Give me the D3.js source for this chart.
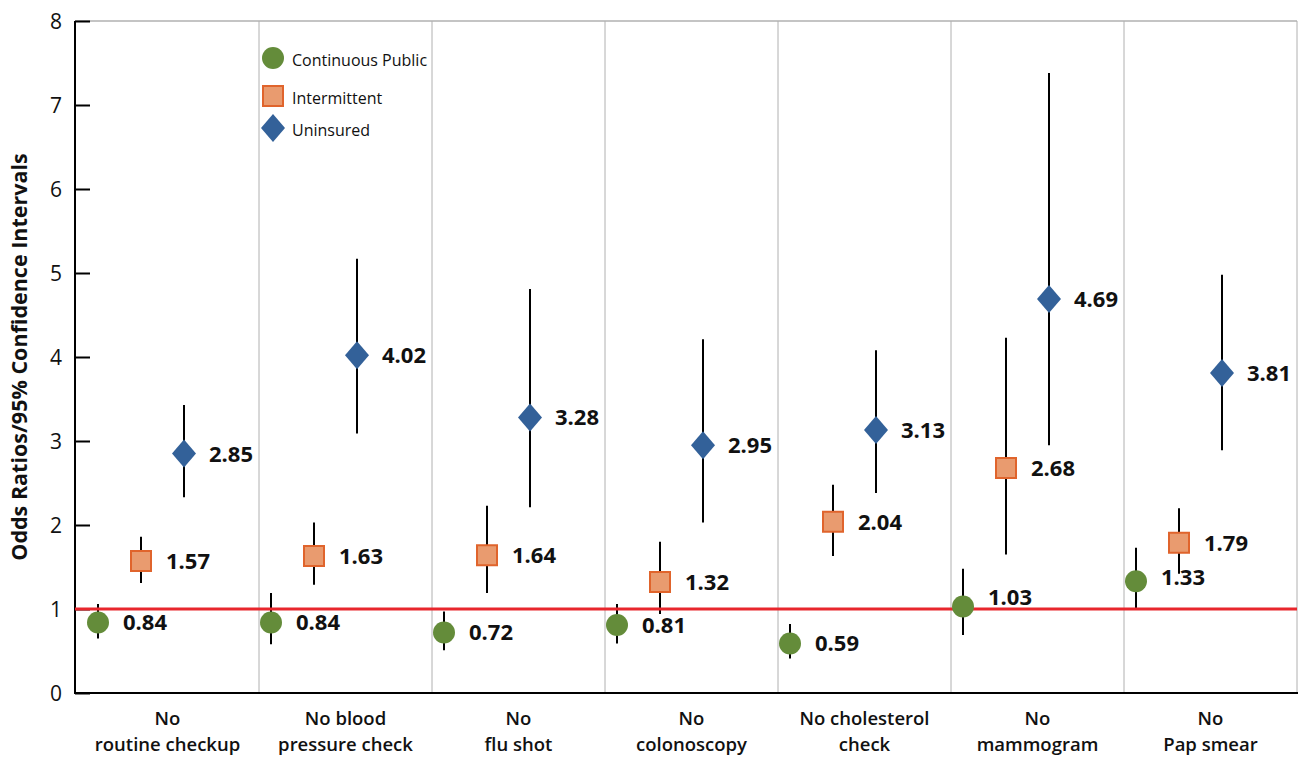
<!DOCTYPE html>
<html>
<head>
<meta charset="utf-8">
<script src="https://cdn.jsdelivr.net/npm/d3@7"></script>
<style>
  html, body { margin: 0; padding: 0; background: #fff; }
  svg { display: block; font-family: "Open Sans", "Noto Sans", sans-serif; }
</style>
</head>
<body>
<svg id="chart" width="1302" height="757"></svg>
<script>
// ---- Data ----
const categories = [
  ["No", "routine checkup"],
  ["No blood", "pressure check"],
  ["No", "flu shot"],
  ["No", "colonoscopy"],
  ["No cholesterol", "check"],
  ["No", "mammogram"],
  ["No", "Pap smear"]
];
const seriesNames = ["Continuous Public", "Intermittent", "Uninsured"];
const cpOR   = [0.84, 0.84, 0.72, 0.81, 0.59, 1.03, 1.33];
const cpLow  = [0.65, 0.58, 0.51, 0.59, 0.41, 0.69, 0.99];
const cpHigh = [1.06, 1.19, 0.97, 1.06, 0.82, 1.48, 1.73];
const intOR   = [1.57, 1.63, 1.64, 1.32, 2.04, 2.68, 1.79];
const intLow  = [1.31, 1.29, 1.19, 0.94, 1.63, 1.65, 1.42];
const intHigh = [1.86, 2.03, 2.23, 1.80, 2.48, 4.23, 2.20];
const unOR   = [2.85, 4.02, 3.28, 2.95, 3.13, 4.69, 3.81];
const unLow  = [2.33, 3.09, 2.21, 2.03, 2.38, 2.95, 2.89];
const unHigh = [3.43, 5.17, 4.81, 4.21, 4.08, 7.38, 4.98];
const yTicks = [0, 1, 2, 3, 4, 5, 6, 7, 8];
const referenceValue = 1;
const yTitle = "Odds Ratios/95% Confidence Intervals";

// ---- Build table ----
const seriesData = [
  { name: seriesNames[0], or: cpOR, lo: cpLow, hi: cpHigh, shape: "circle" },
  { name: seriesNames[1], or: intOR, lo: intLow, hi: intHigh, shape: "square" },
  { name: seriesNames[2], or: unOR, lo: unLow, hi: unHigh, shape: "diamond" }
];
const points = [];
seriesData.forEach(s => {
  categories.forEach((c, i) => {
    points.push({ cat: i, series: s.name, shape: s.shape, v: s.or[i], lo: s.lo[i], hi: s.hi[i] });
  });
});
// label nudges (layout only) to keep labels off the reference line
const labelNudge = { "Continuous Public|5": -9, "Continuous Public|6": -4 };

// ---- Styles ----
const colors = {
  circle: { fill: "#648c3a", stroke: "none" },
  square: { fill: "#e99b6f", stroke: "#e0642c" },
  diamond: { fill: "#336199", stroke: "none" }
};

const svg = d3.select("#chart");
const axisX = 75, plotLeft = 86, plotRight = 1297, plotTop = 21, plotBottom = 693;

const y = d3.scaleLinear().domain([0, 8]).range([plotBottom, plotTop]);
const x = d3.scaleBand().domain(d3.range(categories.length)).range([plotLeft, plotRight]).paddingInner(0).paddingOuter(0);
const inner = d3.scalePoint().domain(seriesNames).range([12, 98]);

// Separators & frame
const g = svg.append("g");
g.selectAll("line.sep")
  .data(d3.range(1, categories.length + 1))
  .join("line")
  .attr("x1", i => x(i) !== undefined ? x(i) : plotRight)
  .attr("x2", i => x(i) !== undefined ? x(i) : plotRight)
  .attr("y1", plotTop).attr("y2", plotBottom)
  .attr("stroke", "#b0b0b0").attr("stroke-width", 1);
g.append("line")
  .attr("x1", axisX).attr("x2", plotRight)
  .attr("y1", plotTop).attr("y2", plotTop)
  .attr("stroke", "#b0b0b0").attr("stroke-width", 1.5);

// Y axis
const yAxis = d3.axisRight(y).tickValues(yTicks).tickSize(15).tickFormat("");
const yg = svg.append("g").attr("transform", `translate(${axisX},0)`).call(yAxis);
yg.select(".domain").attr("stroke", "#000").attr("stroke-width", 2).attr("d", `M0,${plotTop}V${plotBottom}`);
yg.selectAll(".tick line").attr("stroke", "#000").attr("stroke-width", 2);
svg.append("g").selectAll("text")
  .data(yTicks).join("text")
  .attr("x", 62).attr("y", d => y(d)).attr("dy", "0.36em")
  .attr("text-anchor", "end")
  .attr("font-size", 21).attr("fill", "#111")
  .text(d => d);

// X axis line
svg.append("line")
  .attr("x1", axisX - 1).attr("x2", plotRight + 1)
  .attr("y1", plotBottom).attr("y2", plotBottom)
  .attr("stroke", "#000").attr("stroke-width", 2);

// Category labels
const catG = svg.append("g");
categories.forEach((lines, i) => {
  const cx = x(i) + x.bandwidth() / 2 + (i === 0 ? -5 : 0);
  const t = catG.append("text")
    .attr("text-anchor", "middle")
    .attr("font-size", 18.5).attr("font-weight", 600).attr("fill", "#111");
  lines.forEach((ln, k) => {
    t.append("tspan").attr("x", cx).attr("y", 725 + k * 26).text(ln);
  });
});

// Y title
svg.append("text")
  .attr("transform", `translate(27,${(plotTop + plotBottom) / 2}) rotate(-90)`)
  .attr("text-anchor", "middle")
  .attr("font-size", 21.5).attr("font-weight", 700).attr("fill", "#111")
  .text(yTitle);

// Error bars
const px = d => x(d.cat) + inner(d.series);
svg.append("g").selectAll("line")
  .data(points).join("line")
  .attr("x1", px).attr("x2", px)
  .attr("y1", d => y(d.lo)).attr("y2", d => y(d.hi))
  .attr("stroke", "#000").attr("stroke-width", 2);

// Reference line
svg.append("line")
  .attr("x1", axisX).attr("x2", plotRight)
  .attr("y1", y(referenceValue)).attr("y2", y(referenceValue))
  .attr("stroke", "#e8262c").attr("stroke-width", 3);

// Marker symbols
function markerPath(shape) {
  if (shape === "circle") return d3.symbol(d3.symbolCircle, Math.PI * 11 * 11)();
  if (shape === "square") return "M-10,-10H10V10H-10Z";
  return "M0,-14L12,0L0,14L-12,0Z";
}
svg.append("g").selectAll("path")
  .data(points).join("path")
  .attr("transform", d => `translate(${px(d)},${y(d.v)})`)
  .attr("d", d => markerPath(d.shape))
  .attr("fill", d => colors[d.shape].fill)
  .attr("stroke", d => colors[d.shape].stroke)
  .attr("stroke-width", 2);

// Value labels
svg.append("g").selectAll("text")
  .data(points).join("text")
  .attr("x", d => px(d) + 25)
  .attr("y", d => y(d.v) + (labelNudge[d.series + "|" + d.cat] || 0)).attr("dy", "0.36em")
  .attr("font-size", 22).attr("font-weight", 700).attr("fill", "#111")
  .text(d => d.v.toFixed(2));

// Legend
const legend = svg.append("g").attr("transform", "translate(273,0)");
const legendY = [58, 96, 128];
seriesData.forEach((s, i) => {
  legend.append("path")
    .attr("transform", `translate(0,${legendY[i]})`)
    .attr("d", markerPath(s.shape))
    .attr("fill", colors[s.shape].fill)
    .attr("stroke", colors[s.shape].stroke)
    .attr("stroke-width", 2);
  legend.append("text")
    .attr("x", 19).attr("y", legendY[i] + 2).attr("dy", "0.36em")
    .attr("font-size", 16).attr("fill", "#111")
    .text(s.name);
});
</script>
</body>
</html>
